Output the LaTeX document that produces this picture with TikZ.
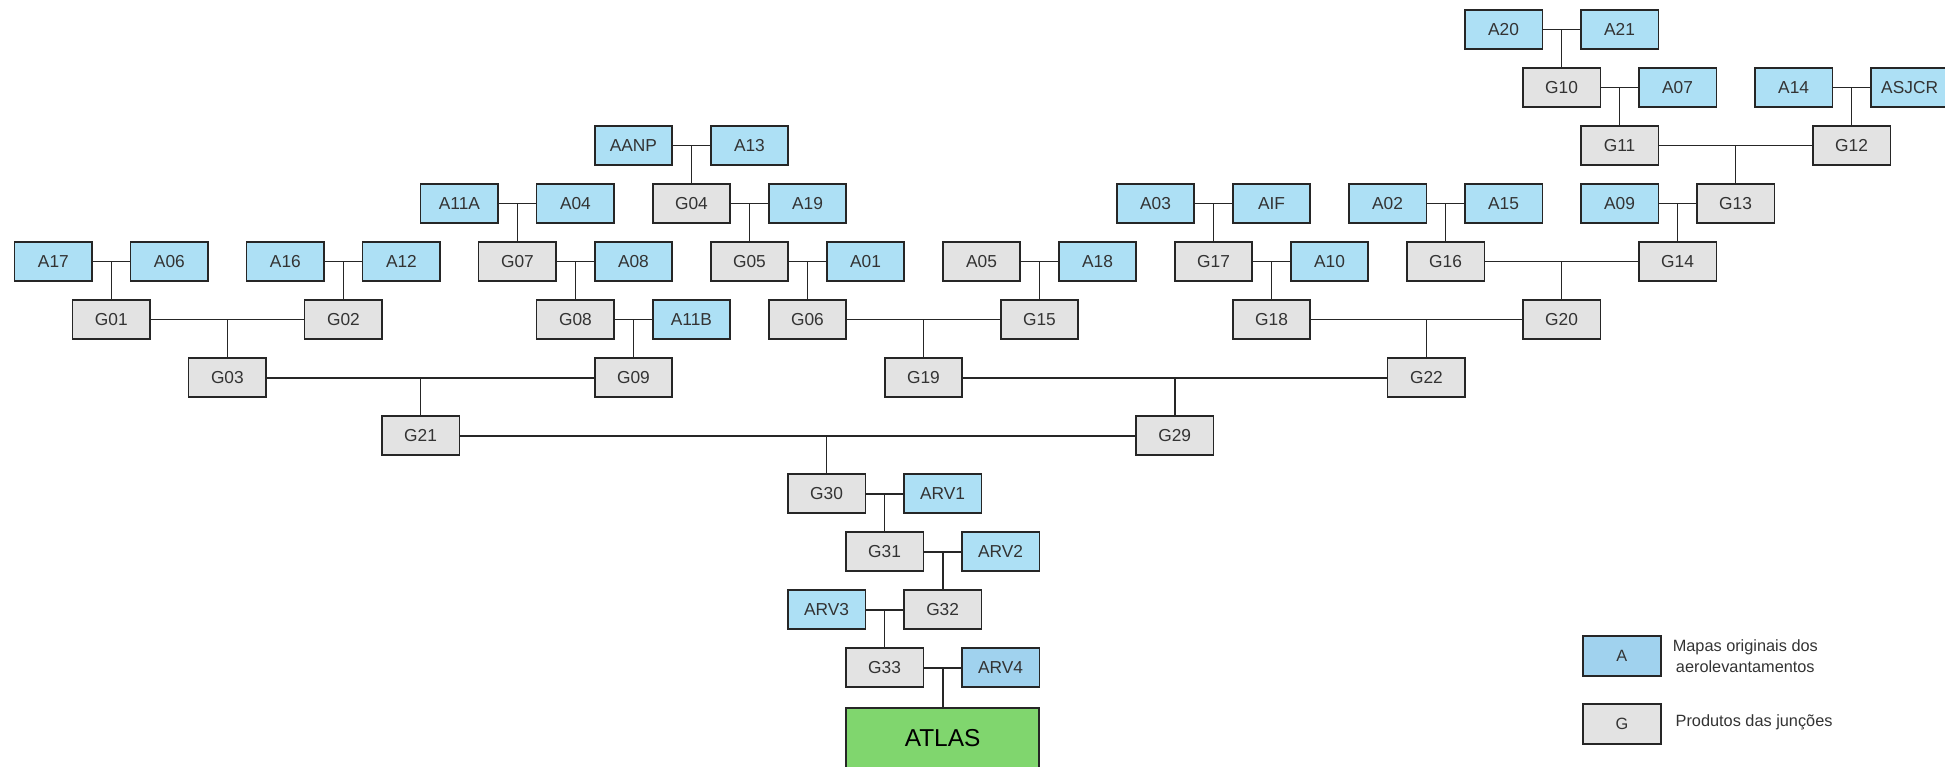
\documentclass[tikz,border=0pt]{standalone}
\usepackage{fontspec}
\setmainfont{Liberation Sans}
\definecolor{mapblue}{HTML}{ADE0F5}
\definecolor{mapblue2}{HTML}{A0D2EE}
\definecolor{juncgray}{HTML}{E3E3E3}
\definecolor{atlasgreen}{HTML}{80D66E}
\definecolor{boxtext}{HTML}{333333}
\begin{document}
\begin{tikzpicture}[x=1cm,y=-1cm,
  box/.style={draw=black!85, line width=0.9pt, minimum width=1.34cm, minimum height=0.67cm, inner sep=0pt, font=\fontsize{8.5}{10}\selectfont, text=boxtext},
  abox/.style={box, fill=mapblue},
  gbox/.style={box, fill=juncgray},
  link/.style={line width=0.85pt, color=black!85}]
\useasboundingbox (0.08,-0.51) rectangle (33.61,12.71);

% row 0
\node[abox] (A20) at (26,0) {A20};
\node[abox] (A21) at (28,0) {A21};
% row 1
\node[gbox] (G10) at (27,1) {G10};
\node[abox] (A07) at (29,1) {A07};
\node[abox] (A14) at (31,1) {A14};
\node[abox] (ASJCR) at (33,1) {ASJCR};
% row 2
\node[abox] (AANP) at (11,2) {AANP};
\node[abox] (A13) at (13,2) {A13};
\node[gbox] (G11) at (28,2) {G11};
\node[gbox] (G12) at (32,2) {G12};
% row 3
\node[abox] (A11A) at (8,3) {A11A};
\node[abox] (A04) at (10,3) {A04};
\node[gbox] (G04) at (12,3) {G04};
\node[abox] (A19) at (14,3) {A19};
\node[abox] (A03) at (20,3) {A03};
\node[abox] (AIF) at (22,3) {AIF};
\node[abox] (A02) at (24,3) {A02};
\node[abox] (A15) at (26,3) {A15};
\node[abox] (A09) at (28,3) {A09};
\node[gbox] (G13) at (30,3) {G13};
% row 4
\node[abox] (A17) at (1,4) {A17};
\node[abox] (A06) at (3,4) {A06};
\node[abox] (A16) at (5,4) {A16};
\node[abox] (A12) at (7,4) {A12};
\node[gbox] (G07) at (9,4) {G07};
\node[abox] (A08) at (11,4) {A08};
\node[gbox] (G05) at (13,4) {G05};
\node[abox] (A01) at (15,4) {A01};
\node[gbox] (A05) at (17,4) {A05};
\node[abox] (A18) at (19,4) {A18};
\node[gbox] (G17) at (21,4) {G17};
\node[abox] (A10) at (23,4) {A10};
\node[gbox] (G16) at (25,4) {G16};
\node[gbox] (G14) at (29,4) {G14};
% row 5
\node[gbox] (G01) at (2,5) {G01};
\node[gbox] (G02) at (6,5) {G02};
\node[gbox] (G08) at (10,5) {G08};
\node[abox] (A11B) at (12,5) {A11B};
\node[gbox] (G06) at (14,5) {G06};
\node[gbox] (G15) at (18,5) {G15};
\node[gbox] (G18) at (22,5) {G18};
\node[gbox] (G20) at (27,5) {G20};
% row 6
\node[gbox] (G03) at (4,6) {G03};
\node[gbox] (G09) at (11,6) {G09};
\node[gbox] (G19) at (16,6) {G19};
\node[gbox] (G22) at (24.67,6) {G22};
% row 7
\node[gbox] (G21) at (7.33,7) {G21};
\node[gbox] (G29) at (20.33,7) {G29};
% rows 8 to 11
\node[gbox] (G30) at (14.33,8) {G30};
\node[abox] (ARV1) at (16.33,8) {ARV1};
\node[gbox] (G31) at (15.33,9) {G31};
\node[abox] (ARV2) at (17.33,9) {ARV2};
\node[abox] (ARV3) at (14.33,10) {ARV3};
\node[gbox] (G32) at (16.33,10) {G32};
\node[gbox] (G33) at (15.33,11) {G33};
\node[abox, fill=mapblue2] (ARV4) at (17.33,11) {ARV4};
\node[box, fill=atlasgreen, minimum width=3.33cm, minimum height=1.04cm, font=\fontsize{12}{14}\selectfont, text=black] (ATLAS) at (16.33,12.22) {ATLAS};

% legend
\node[box, fill=mapblue2, font=\fontsize{8}{9}\selectfont, minimum height=0.69cm] (legA) at (28.04,10.8) {A};
\node[box, fill=juncgray, font=\fontsize{8}{9}\selectfont, minimum height=0.69cm] (legG) at (28.04,11.97) {G};
\node[anchor=west, inner sep=0pt, align=center, font=\fontsize{8}{10.3}\selectfont, text=boxtext] (legAtext) at (28.91,10.81) {Mapas originais dos\\aerolevantamentos};
\node[anchor=west, inner sep=0pt, font=\fontsize{8}{10.3}\selectfont, text=boxtext] (legGtext) at (28.96,11.94) {Produtos das junções};

% junctions
\path[draw,link] (A20) -- (A21); \path[draw,link] (G10.north) -- (G10.north |- A20);
\path[draw,link] (G10) -- (A07); \path[draw,link] (G11.north) -- (G11.north |- G10);
\path[draw,link] (A14) -- (ASJCR); \path[draw,link] (G12.north) -- (G12.north |- A14);
\path[draw,link] (G11) -- (G12); \path[draw,link] (G13.north) -- (G13.north |- G11);
\path[draw,link] (A09) -- (G13); \path[draw,link] (G14.north) -- (G14.north |- A09);
\path[draw,link] (A02) -- (A15); \path[draw,link] (G16.north) -- (G16.north |- A02);
\path[draw,link] (G16) -- (G14); \path[draw,link] (G20.north) -- (G20.north |- G16);
\path[draw,link] (A03) -- (AIF); \path[draw,link] (G17.north) -- (G17.north |- A03);
\path[draw,link] (G17) -- (A10); \path[draw,link] (G18.north) -- (G18.north |- G17);
\path[draw,link] (G18) -- (G20); \path[draw,link] (G22.north) -- (G22.north |- G18);
\path[draw,link] (A05) -- (A18); \path[draw,link] (G15.north) -- (G15.north |- A05);
\path[draw,link] (G06) -- (G15); \path[draw,link] (G19.north) -- (G19.north |- G06);
\path[draw,link] (G19) -- (G22); \path[draw,link] (G29.north) -- (G29.north |- G19);
\path[draw,link] (AANP) -- (A13); \path[draw,link] (G04.north) -- (G04.north |- AANP);
\path[draw,link] (G04) -- (A19); \path[draw,link] (G05.north) -- (G05.north |- G04);
\path[draw,link] (G05) -- (A01); \path[draw,link] (G06.north) -- (G06.north |- G05);
\path[draw,link] (A11A) -- (A04); \path[draw,link] (G07.north) -- (G07.north |- A11A);
\path[draw,link] (G07) -- (A08); \path[draw,link] (G08.north) -- (G08.north |- G07);
\path[draw,link] (G08) -- (A11B); \path[draw,link] (G09.north) -- (G09.north |- G08);
\path[draw,link] (A17) -- (A06); \path[draw,link] (G01.north) -- (G01.north |- A17);
\path[draw,link] (A16) -- (A12); \path[draw,link] (G02.north) -- (G02.north |- A16);
\path[draw,link] (G01) -- (G02); \path[draw,link] (G03.north) -- (G03.north |- G01);
\path[draw,link] (G03) -- (G09); \path[draw,link] (G21.north) -- (G21.north |- G03);
\path[draw,link] (G21) -- (G29); \path[draw,link] (G30.north) -- (G30.north |- G21);
\path[draw,link] (G30) -- (ARV1); \path[draw,link] (G31.north) -- (G31.north |- G30);
\path[draw,link] (G31) -- (ARV2); \path[draw,link] (G32.north) -- (G32.north |- G31);
\path[draw,link] (ARV3) -- (G32); \path[draw,link] (G33.north) -- (G33.north |- ARV3);
\path[draw,link] (G33) -- (ARV4); \path[draw,link] (ATLAS.north) -- (ATLAS.north |- G33);
\end{tikzpicture}
\end{document}
